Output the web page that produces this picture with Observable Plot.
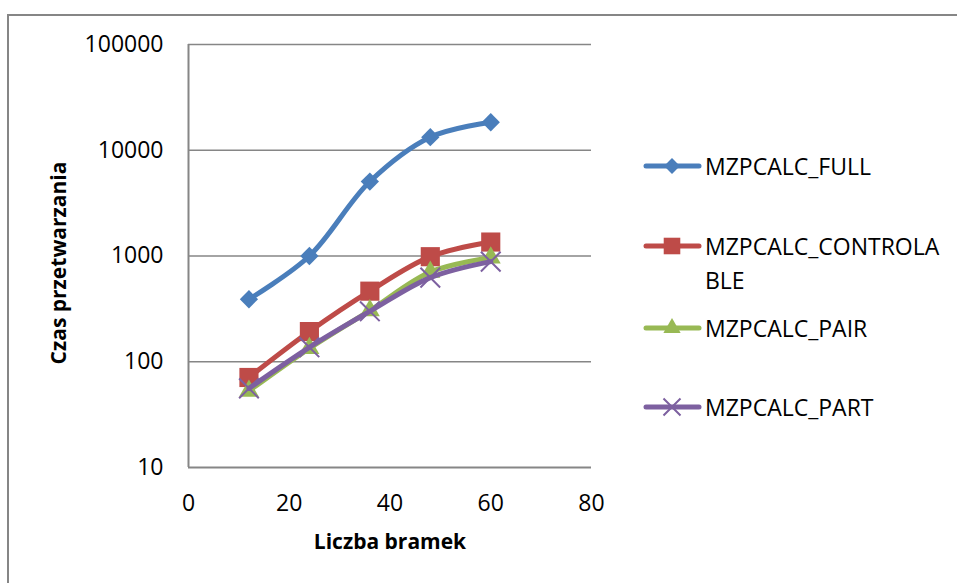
<!DOCTYPE html>
<html><head><meta charset="utf-8">
<script src="https://cdn.jsdelivr.net/npm/d3@7"></script>
<script src="https://cdn.jsdelivr.net/npm/@observablehq/plot@0.6"></script>
<style>
body{margin:0;background:#fff;font-family:"Open Sans",sans-serif;}
#wrap{position:relative;width:957px;height:583px;overflow:hidden;background:#fff;}
#frame{position:absolute;left:7px;top:14px;width:1000px;height:700px;border-left:2px solid #868686;border-top:2px solid #868686;}
#chart{position:absolute;left:0;top:0;}
.title{position:absolute;font-weight:bold;font-size:21px;color:#000;white-space:nowrap;}
#ytitle{left:58px;top:263px;transform:translate(-50%,-50%) rotate(-90deg);}
#xtitle{left:390px;top:541px;transform:translate(-50%,-50%);}
.leg{position:absolute;left:643px;display:flex;align-items:flex-start;font-size:23px;color:#000;line-height:34px;}
.leg svg{flex:none;margin-top:5px;}
.leg span{margin-left:2px;}
</style></head><body>
<div id="wrap"><div id="frame"></div><div id="chart"></div>
<div class="title" id="ytitle">Czas przetwarzania</div>
<div class="title" id="xtitle">Liczba bramek</div>
</div>
<script>
const xValues = [12, 24, 36, 48, 60];
const seriesNames = ["MZPCALC_FULL", "MZPCALC_CONTROLABLE", "MZPCALC_PAIR", "MZPCALC_PART"];
const fullValues = [390, 1000, 5060, 13300, 18400];
const controlableValues = [71, 193, 465, 985, 1355];
const pairValues = [53, 134, 305, 706, 965];
const partValues = [56, 137, 300, 625, 885];
const xTicks = [0, 20, 40, 60, 80];
const yTicks = [10, 100, 1000, 10000, 100000];

const colors = ["#4a7ebb", "#be4b48", "#98b954", "#7d60a0"];
const allValues = [fullValues, controlableValues, pairValues, partValues];
const rows = [];
seriesNames.forEach((s, i) => xValues.forEach((x, j) => rows.push({series: s, x, y: allValues[i][j]})));

const markerSpec = [
  {symbol: "square", r: 7.3, rotate: 45, fill: true},
  {symbol: "square", r: 10.8, rotate: 0, fill: true},
  {symbol: "triangle", r: 7.4, rotate: 0, fill: true},
  {symbol: "times", r: 9, rotate: 0, fill: false}
];

const seriesMarks = [];
seriesNames.forEach((s, i) => {
  const d = rows.filter(r => r.series === s);
  const m = markerSpec[i];
  seriesMarks.push(Plot.line(d, {x: "x", y: "y", stroke: colors[i], strokeWidth: 5, curve: "catmull-rom", strokeLinecap: "round", strokeLinejoin: "round"}));
  if (m.fill) {
    seriesMarks.push(Plot.dot(d, {x: "x", y: "y", symbol: m.symbol, r: m.r, rotate: m.rotate, fill: colors[i], stroke: "none"}));
  } else {
    seriesMarks.push(Plot.dot(d, {x: "x", y: "y", symbol: m.symbol, r: m.r, stroke: colors[i], strokeWidth: 2, fill: "none"}));
  }
});

const chart = Plot.plot({
  width: 957, height: 583,
  marginLeft: 188, marginRight: 366, marginTop: 44, marginBottom: 116,
  style: {fontFamily: '"Open Sans", sans-serif', fontSize: "23px", color: "#000", background: "transparent", overflow: "visible"},
  x: {domain: [0, 80]},
  y: {type: "log", domain: [10, 100000]},
  marks: [
    Plot.gridY(yTicks.slice(1), {stroke: "#868686", strokeOpacity: 1, strokeWidth: 1.6}),
    Plot.ruleX([0], {stroke: "#868686", strokeWidth: 2}),
    Plot.ruleY([10], {stroke: "#868686", strokeWidth: 2}),
    Plot.axisY(yTicks, {tickSize: 0, tickPadding: 25, tickFormat: d => String(d), fontSize: 23, fill: "#000", label: null}),
    Plot.axisX(xTicks, {tickSize: 0, tickPadding: 27, tickFormat: d => String(d), fontSize: 23, fill: "#000", label: null}),
    ...seriesMarks
  ]
});
document.getElementById("chart").appendChild(chart);

// legend
const legendCenters = [166, 246, 328, 407];
const wrap = document.getElementById("wrap");
seriesNames.forEach((s, i) => {
  const div = document.createElement("div");
  div.className = "leg";
  div.style.top = (legendCenters[i] - 17) + "px";
  const svg = d3.create("svg").attr("width", 60).attr("height", 24);
  svg.append("line").attr("x1", 3).attr("x2", 56).attr("y1", 12).attr("y2", 12)
    .attr("stroke", colors[i]).attr("stroke-width", 5).attr("stroke-linecap", "round");
  const m = markerSpec[i];
  const types = {square: d3.symbolSquare, triangle: d3.symbolTriangle, times: d3.symbolTimes};
  const size = m.r * m.r * Math.PI * 0.75;
  const p = svg.append("path").attr("d", d3.symbol(types[m.symbol], size)())
    .attr("transform", `translate(29,12) rotate(${m.rotate})`);
  if (m.fill) p.attr("fill", colors[i]); else p.attr("fill", "none").attr("stroke", colors[i]).attr("stroke-width", 2);
  div.appendChild(svg.node());
  const span = document.createElement("span");
  const lines = s.length > 16 ? [s.slice(0, 16), s.slice(16)] : [s];
  lines.forEach((t, k) => { if (k) span.appendChild(document.createElement("br")); span.appendChild(document.createTextNode(t)); });
  div.appendChild(span);
  wrap.appendChild(div);
});
</script>
</body></html>
